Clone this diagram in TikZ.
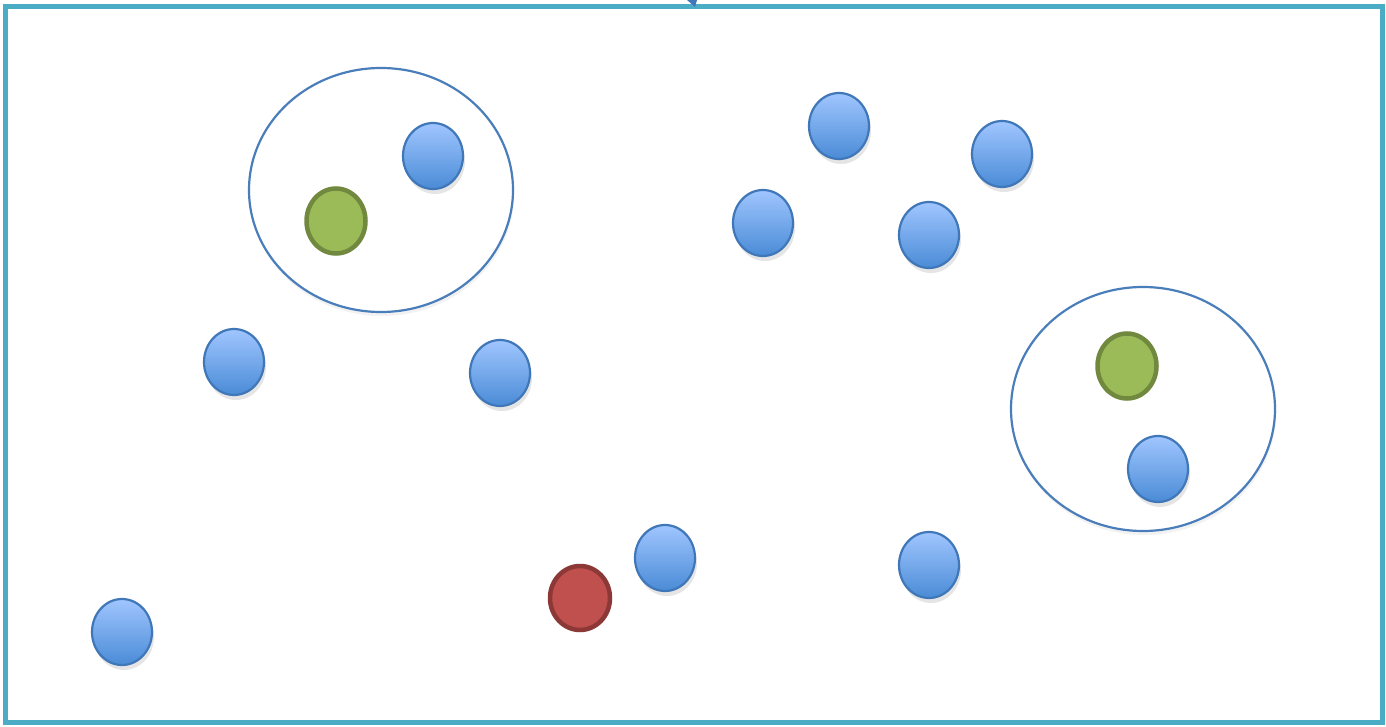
\documentclass[tikz,border=0pt]{standalone}
\usepackage{tikz}
\usetikzlibrary{shapes.geometric,shadows}
\definecolor{FrameTeal}{HTML}{4BACC6}
\definecolor{RingBlue}{HTML}{4A7EBB}
\definecolor{DotTop}{HTML}{A0C6FF}
\definecolor{DotBottom}{HTML}{4A8BD6}
\definecolor{DotEdge}{HTML}{3F77B8}
\definecolor{SeedGreen}{HTML}{9BBB59}
\definecolor{SeedEdge}{HTML}{71893F}
\definecolor{OutRed}{HTML}{C0504D}
\definecolor{OutEdge}{HTML}{8C3836}
\tikzset{
  point/.style={ellipse,draw=DotEdge,line width=2.2pt,top color=DotTop,bottom color=DotBottom,
    minimum width=60pt,minimum height=66pt,inner sep=0pt,
    drop shadow={shadow xshift=2pt,shadow yshift=-5pt,opacity=0.2}},
  seed/.style={ellipse,draw=SeedEdge,fill=SeedGreen,line width=4.5pt,
    minimum width=59pt,minimum height=65pt,inner sep=0pt},
  outlier/.style={ellipse,draw=OutEdge,fill=OutRed,line width=4.5pt,
    minimum width=60pt,minimum height=64pt,inner sep=0pt},
  cluster/.style={ellipse,draw=RingBlue,line width=2.2pt,fill=white,
    minimum width=264pt,minimum height=244pt,inner sep=0pt,
    drop shadow={shadow xshift=1pt,shadow yshift=-4pt,opacity=0.1}}
}
\begin{document}
\begin{tikzpicture}[x=1pt,y=-1pt]
  \useasboundingbox (0,0) rectangle (1386,727);
  \fill[white] (0,0) rectangle (1386,727);
  % frame
  \draw[FrameTeal,line width=5pt] (5.5,6.5) rectangle (1382.5,722.5);
  \fill[DotEdge] (687,0) -- (697,0) -- (695,7) -- cycle;
  % clusters
  \node[cluster] (ringA) at (381,190) {};
  \node[cluster] (ringB) at (1143,409) {};
  % points
  \node[point] (p1) at (433,156) {};
  \node[point] (p2) at (839,126) {};
  \node[point] (p3) at (1002,154) {};
  \node[point] (p4) at (763,223) {};
  \node[point] (p5) at (929,235) {};
  \node[point] (p6) at (234,362) {};
  \node[point] (p7) at (500,373) {};
  \node[point] (p8) at (1158,469) {};
  \node[point] (p9) at (665,558) {};
  \node[point] (p10) at (929,565) {};
  \node[point] (p11) at (122,632) {};
  % seeds and outlier
  \node[seed] (seedA) at (336,221) {};
  \node[seed] (seedB) at (1127,366) {};
  \node[outlier] (noise) at (580,598) {};
\end{tikzpicture}
\end{document}
